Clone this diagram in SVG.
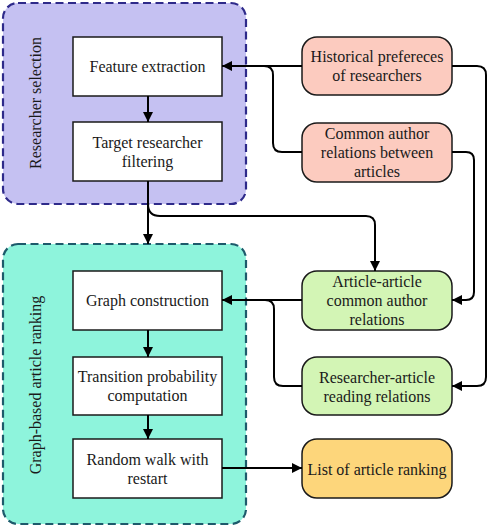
<svg xmlns="http://www.w3.org/2000/svg" width="490" height="528" viewBox="0 0 490 528">
<style>
.grp1{fill:#c5c1f2;stroke:#2e2a8a;stroke-width:2.2;stroke-dasharray:8 4.5}
.grp2{fill:#8ef4dc;stroke:#1d5a6b;stroke-width:2.2;stroke-dasharray:8 4.5}
.box{fill:#ffffff;stroke:#1a1a1a;stroke-width:1.5}
.pink{fill:#fccbbf;stroke:#1a1a1a;stroke-width:1.5}
.green{fill:#d3f5b5;stroke:#1a1a1a;stroke-width:1.5}
.orange{fill:#fdd67b;stroke:#1a1a1a;stroke-width:1.5}
.t{font-size:16px;fill:#1a1a1a;text-anchor:middle}
.edge{fill:none;stroke:#000;stroke-width:2}
</style>
<defs>
<marker id="arr" viewBox="0 0 10 10" refX="10" refY="5" markerWidth="10" markerHeight="10" markerUnits="userSpaceOnUse" orient="auto">
<path d="M0,0 L10,5 L0,10 Z" fill="#000"/>
</marker>
</defs>
<g font-family="'Liberation Serif', 'DejaVu Serif', serif">
<g id="researcher-selection">
<rect class="grp1" x="3" y="3" width="243" height="201" rx="15"/>
<text class="t" transform="translate(41,103) rotate(-90)" x="0" y="0">Researcher selection</text>
</g>
<g id="graph-based-ranking">
<rect class="grp2" x="3" y="244" width="243" height="280" rx="15"/>
<text class="t" transform="translate(41,385) rotate(-90)" x="0" y="0">Graph-based article ranking</text>
</g>
<g id="feature-extraction">
<rect class="box" x="73" y="37" width="149" height="59"/>
<text class="t" x="147.5" y="71.5">Feature extraction</text>
</g>
<g id="target-filtering">
<rect class="box" x="73" y="122" width="149" height="59"/>
<text class="t" x="147.5" y="148">Target researcher</text>
<text class="t" x="147.5" y="167">filtering</text>
</g>
<g id="graph-construction">
<rect class="box" x="73" y="271" width="149" height="59"/>
<text class="t" x="147.5" y="306">Graph construction</text>
</g>
<g id="transition-probability">
<rect class="box" x="73" y="357" width="149" height="58"/>
<text class="t" x="147.5" y="382">Transition probability</text>
<text class="t" x="147.5" y="401">computation</text>
</g>
<g id="random-walk">
<rect class="box" x="73" y="439" width="149" height="59"/>
<text class="t" x="147.5" y="465">Random walk with</text>
<text class="t" x="147.5" y="484">restart</text>
</g>
<g id="historical-preferences">
<rect class="pink" x="302" y="37" width="150" height="58" rx="15"/>
<text class="t" x="377" y="62">Historical prefereces</text>
<text class="t" x="377" y="81">of researchers</text>
</g>
<g id="common-author">
<rect class="pink" x="302" y="123" width="150" height="59" rx="15"/>
<text class="t" x="377" y="139">Common author</text>
<text class="t" x="377" y="158">relations between</text>
<text class="t" x="377" y="177">articles</text>
</g>
<g id="article-article">
<rect class="green" x="302" y="271" width="150" height="59" rx="15"/>
<text class="t" x="377" y="287">Article-article</text>
<text class="t" x="377" y="306">common author</text>
<text class="t" x="377" y="325">relations</text>
</g>
<g id="researcher-article">
<rect class="green" x="302" y="357" width="150" height="58" rx="15"/>
<text class="t" x="377" y="382.5">Researcher-article</text>
<text class="t" x="377" y="401.5">reading relations</text>
</g>
<g id="list-ranking">
<rect class="orange" x="302" y="439" width="150" height="59" rx="15"/>
<text class="t" x="377" y="474.5">List of article ranking</text>
</g>
</g>
<g id="connectors">
<path class="edge" d="M148,96 L148,122" marker-end="url(#arr)"/>
<path class="edge" d="M148,181 L148,244" marker-end="url(#arr)"/>
<path class="edge" d="M148,204 Q148,216 160,216 L366,216 Q375,216 375,225 L375,271" marker-end="url(#arr)"/>
<path class="edge" d="M302,66 L222,66" marker-end="url(#arr)"/>
<path class="edge" d="M302,152 L282,152 Q273,152 273,143 L273,75 Q273,66 264,66 L240,66"/>
<path class="edge" d="M452,66 L477,66 Q486,66 486,75 L486,377 Q486,386 477,386 L452,386" marker-end="url(#arr)"/>
<path class="edge" d="M452,152 L466,152 Q474,152 474,160 L474,292 Q474,300 466,300 L452,300" marker-end="url(#arr)"/>
<path class="edge" d="M302,300 L222,300" marker-end="url(#arr)"/>
<path class="edge" d="M302,386 L283,386 Q274,386 274,377 L274,309 Q274,300 265,300 L240,300"/>
<path class="edge" d="M148,330 L148,357" marker-end="url(#arr)"/>
<path class="edge" d="M148,415 L148,439" marker-end="url(#arr)"/>
<path class="edge" d="M222,468 L302,468" marker-end="url(#arr)"/>
</g>
</svg>
